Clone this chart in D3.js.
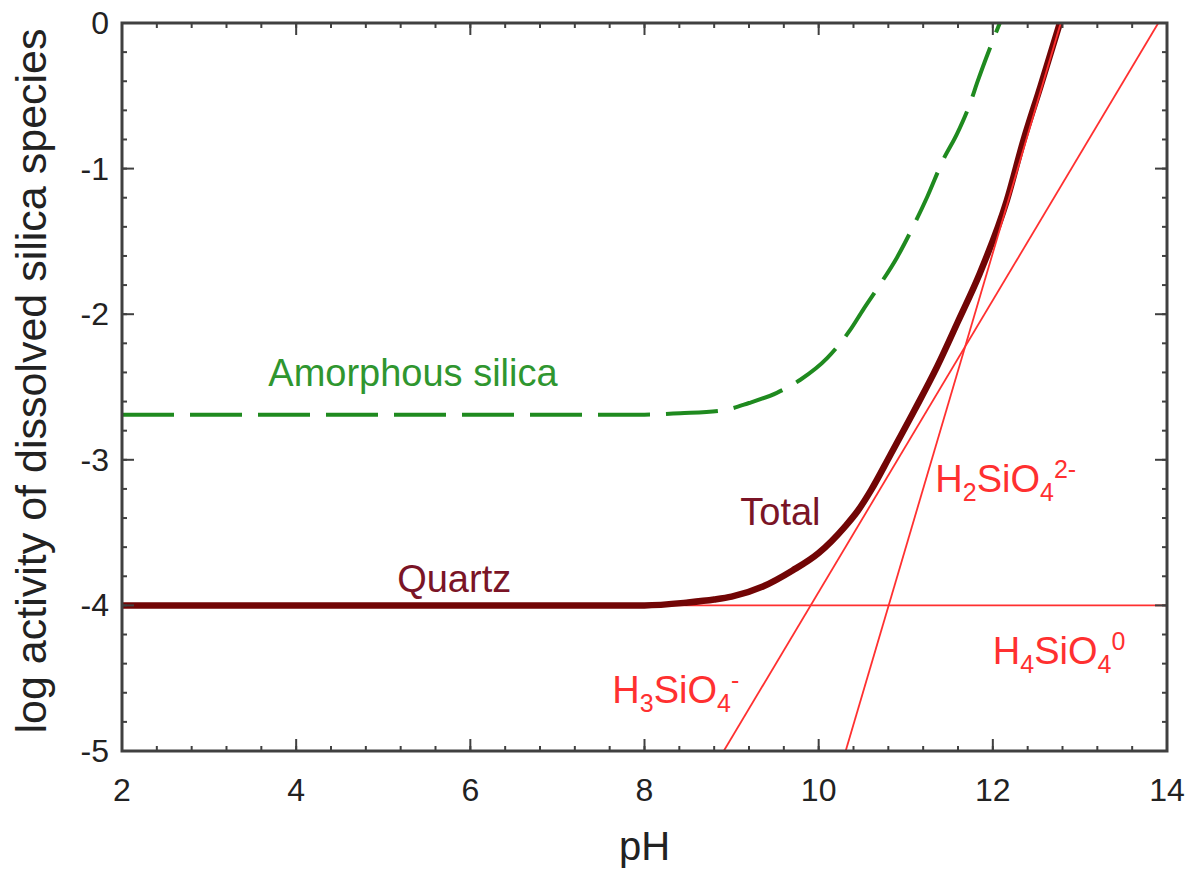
<!DOCTYPE html>
<html>
<head>
<meta charset="utf-8">
<script src="https://cdn.jsdelivr.net/npm/d3@7"></script>
<style>
  body { margin: 0; background: #fff; }
  svg text { font-family: "Liberation Sans", Arial, sans-serif; }
</style>
</head>
<body>
<div id="chart"></div>
<script>
// tick labels
var phTicks = [2, 4, 6, 8, 10, 12, 14],
    logTicks = [0, -1, -2, -3, -4, -5];

var h4sio4 = [[2, -4], [14, -4]],
    h3sio4 = [[8.91, -5], [13.9, 0]],
    h2sio4 = [[10.31, -5], [12.78, 0]];

// total dissolved silica in equilibrium with quartz
var totalPH  = [2, 8.0, 8.5, 8.8, 9.0, 9.36, 9.7, 10.0, 10.3, 10.45, 10.6, 10.82, 11.1, 11.36, 11.6, 11.85, 12.16, 12.35, 12.55, 12.77],
    totalLog = [-4, -4, -3.98, -3.96, -3.94, -3.87, -3.76, -3.64, -3.46, -3.35, -3.21, -2.97, -2.66, -2.36, -2.05, -1.72, -1.22, -0.81, -0.43, 0];

// amorphous silica solubility
var amorphPH  = [2, 8.0, 8.41, 8.9, 9.2, 9.52, 9.79, 10.1, 10.36, 10.51, 10.7, 10.9, 11.05, 11.25, 11.43, 11.59, 11.74, 11.82, 12.08],
    amorphLog = [-2.69, -2.69, -2.68, -2.66, -2.61, -2.54, -2.45, -2.3, -2.11, -1.97, -1.8, -1.61, -1.44, -1.19, -0.94, -0.76, -0.55, -0.41, 0];

var W = 1193, H = 875,
    m = {left: 122, right: 26, top: 23, bottom: 124},
    iw = W - m.left - m.right,
    ih = H - m.top - m.bottom;

var svg = d3.select('#chart').append('svg')
    .attr('width', W)
    .attr('height', H);

var x = d3.scaleLinear().domain([2, 14]).range([0, iw]),
    y = d3.scaleLinear().domain([-5, 0]).range([ih, 0]);

var g = svg.append('g').attr('transform', 'translate(' + m.left + ',' + m.top + ')');

g.append('clipPath').attr('id', 'clip')
  .append('rect').attr('width', iw).attr('height', ih);

var plot = g.append('g').attr('clip-path', 'url(#clip)');

function zip(a, b) {
    return a.map(function(v, i) { return [v, b[i]]; });
}

var line = d3.line()
    .x(function(d) { return x(d[0]); })
    .y(function(d) { return y(d[1]); });

var curve = d3.line()
    .curve(d3.curveMonotoneX)
    .x(function(d) { return x(d[0]); })
    .y(function(d) { return y(d[1]); });

function species(d) {
    plot.append('path')
        .datum(d)
        .attr('d', line)
        .attr('fill', 'none')
        .attr('stroke', '#ff3030')
        .attr('stroke-width', 1.8);
}

// amorphous silica, dashed green
plot.append('path')
    .datum(zip(amorphPH, amorphLog))
    .attr('d', curve)
    .attr('fill', 'none')
    .attr('stroke', '#1f8a1f')
    .attr('stroke-width', 4)
    .attr('stroke-dasharray', '52,16');

// neutral species under the total, charged ones over it
species(h4sio4);

plot.append('path')
    .datum(zip(totalPH, totalLog))
    .attr('d', curve)
    .attr('fill', 'none')
    .attr('stroke', '#720505')
    .attr('stroke-width', 6.5);

species(h3sio4);
species(h2sio4);

// frame + ticks on all four sides
var axisCol = '#404040';
g.append('rect')
    .attr('width', iw).attr('height', ih)
    .attr('fill', 'none')
    .attr('stroke', axisCol)
    .attr('stroke-width', 3);

var xMinor = d3.range(2, 14.001, 0.4),
    yMinor = d3.range(-5, 0.001, 0.2);

function ticks(vals, len, horiz) {
    vals.forEach(function(v) {
        if (horiz) {
            g.append('line').attr('x1', x(v)).attr('x2', x(v)).attr('y1', ih).attr('y2', ih - len)
                .attr('stroke', axisCol).attr('stroke-width', 2);
            g.append('line').attr('x1', x(v)).attr('x2', x(v)).attr('y1', 0).attr('y2', len)
                .attr('stroke', axisCol).attr('stroke-width', 2);
        } else {
            g.append('line').attr('y1', y(v)).attr('y2', y(v)).attr('x1', 0).attr('x2', len)
                .attr('stroke', axisCol).attr('stroke-width', 2);
            g.append('line').attr('y1', y(v)).attr('y2', y(v)).attr('x1', iw).attr('x2', iw - len)
                .attr('stroke', axisCol).attr('stroke-width', 2);
        }
    });
}
ticks(xMinor, 5, true);
ticks(phTicks, 12, true);
ticks(yMinor, 5, false);
ticks(logTicks, 12, false);

g.selectAll('.xl')
    .data(phTicks)
    .enter()
    .append('text')
    .attr('x', function(d) { return x(d); })
    .attr('y', ih + 50)
    .attr('text-anchor', 'middle')
    .style('font-size', '32px')
    .style('fill', '#222')
    .text(function(d) { return d; });

g.selectAll('.yl')
    .data(logTicks)
    .enter()
    .append('text')
    .attr('x', -13)
    .attr('y', function(d) { return y(d) + 11; })
    .attr('text-anchor', 'end')
    .style('font-size', '32px')
    .style('fill', '#222')
    .text(function(d) { return d; });

svg.append('text')
    .attr('x', m.left + iw / 2)
    .attr('y', 860)
    .attr('text-anchor', 'middle')
    .style('font-size', '40px')
    .style('fill', '#222')
    .text('pH');

svg.append('text')
    .attr('transform', 'translate(46,' + (m.top + ih / 2 - 6) + ') rotate(-90)')
    .attr('text-anchor', 'middle')
    .style('font-size', '43px')
    .style('fill', '#222')
    .text('log activity of dissolved silica species');

// labels
function label(px, py, col, parts) {
    var t = g.append('text')
        .attr('x', x(px))
        .attr('y', y(py))
        .style('font-size', '38px')
        .style('fill', col);
    parts.forEach(function(p) {
        var s = t.append('tspan').text(p[0]);
        if (p[1] === 'sub') s.attr('dy', 9).style('font-size', '25px');
        if (p[1] === 'sup') s.attr('dy', -23).style('font-size', '25px');
        if (p[1] === 'back') s.attr('dy', p[2]);
    });
}

label(3.68, -2.49, '#2f962f', [['Amorphous silica']]);
label(5.16, -3.91, '#7a1426', [['Quartz']]);
label(9.1, -3.45, '#7a1426', [['Total']]);
label(11.34, -3.22, '#ff3030', [['H'], ['2', 'sub'], ['SiO', 'back', -9], ['4', 'sub'], ['2-', 'sup']]);
label(7.63, -4.67, '#ff3030', [['H'], ['3', 'sub'], ['SiO', 'back', -9], ['4', 'sub'], ['-', 'sup']]);
label(12.0, -4.40, '#ff3030', [['H'], ['4', 'sub'], ['SiO', 'back', -9], ['4', 'sub'], ['0', 'sup']]);
</script>
</body>
</html>
